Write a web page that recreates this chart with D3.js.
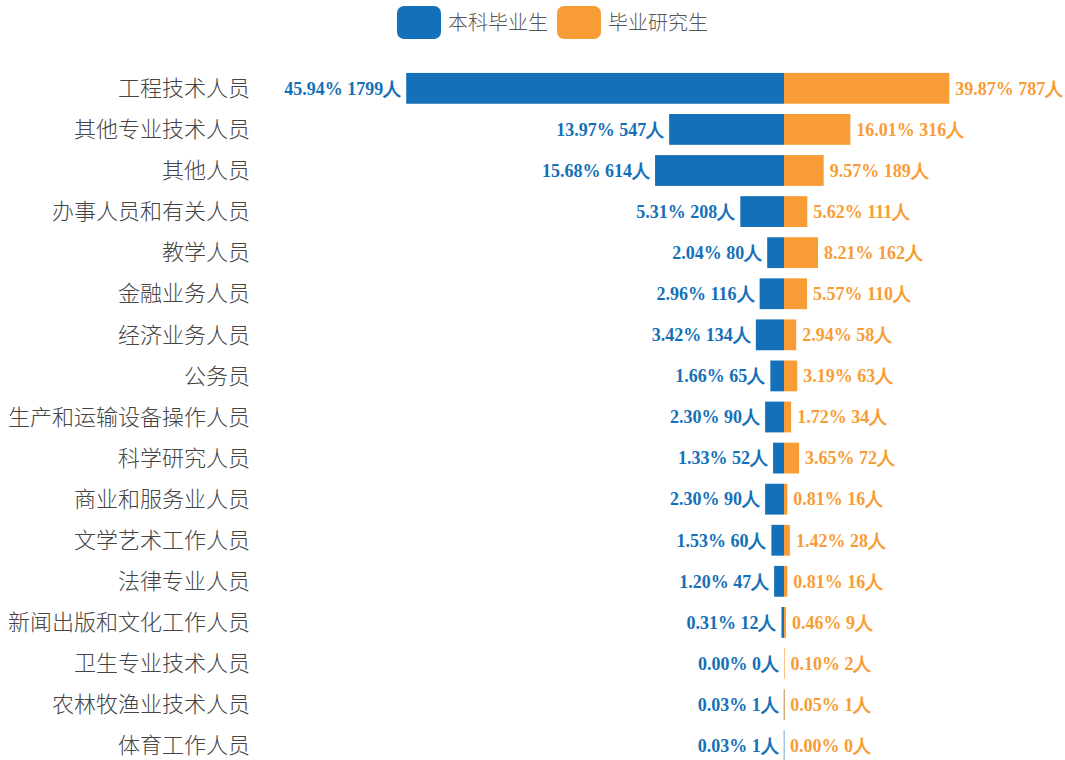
<!DOCTYPE html>
<html lang="zh">
<head>
  <meta charset="UTF-8">
  <title>毕业生职业分布</title>
  <style>
    body { margin: 0; background: #fff; }
  </style>
</head>
<body>
  <svg id="svg" width="1065" height="760"></svg>

  <script src="https://d3js.org/d3.v7.min.js"></script>
  <script>
    const categories = ['工程技术人员', '其他专业技术人员', '其他人员', '办事人员和有关人员', '教学人员',
      '金融业务人员', '经济业务人员', '公务员', '生产和运输设备操作人员', '科学研究人员',
      '商业和服务业人员', '文学艺术工作人员', '法律专业人员', '新闻出版和文化工作人员',
      '卫生专业技术人员', '农林牧渔业技术人员', '体育工作人员']
    const bachelorCount = [1799, 547, 614, 208, 80, 116, 134, 65, 90, 52, 90, 60, 47, 12, 0, 1, 1]
    const bachelorPct = ['45.94%', '13.97%', '15.68%', '5.31%', '2.04%', '2.96%', '3.42%', '1.66%', '2.30%',
      '1.33%', '2.30%', '1.53%', '1.20%', '0.31%', '0.00%', '0.03%', '0.03%']
    const masterCount = [787, 316, 189, 111, 162, 110, 58, 63, 34, 72, 16, 28, 16, 9, 2, 1, 0]
    const masterPct = ['39.87%', '16.01%', '9.57%', '5.62%', '8.21%', '5.57%', '2.94%', '3.19%', '1.72%',
      '3.65%', '0.81%', '1.42%', '0.81%', '0.46%', '0.10%', '0.05%', '0.00%']
    const seriesNames = ['本科毕业生', '毕业研究生']

    const blue = '#1470b8'
    const orange = '#f89c35'

    const svg = d3.select('#svg')

    // symmetric scale around the centre line, bars sized by head count
    const x = d3.scaleLinear()
      .domain([-1800, 1800])
      .range([406, 1162])

    const y = d3.scaleBand()
      .domain(categories)
      .range([68, 766])
      .paddingInner(0.25)
      .paddingOuter(0.12)

    const rows = categories.map((c, i) => ({
      cat: c, b: bachelorCount[i], bp: bachelorPct[i], m: masterCount[i], mp: masterPct[i]
    }))

    // category labels
    svg.selectAll('.cat')
      .data(rows)
      .enter()
      .append('text')
      .attr('x', 250)
      .attr('y', d => y(d.cat) + y.bandwidth() / 2)
      .attr('dy', '0.35em')
      .attr('text-anchor', 'end')
      .attr('font-family', '"Noto Sans CJK SC", sans-serif')
      .attr('font-weight', 300)
      .attr('font-size', 22)
      .attr('fill', '#444')
      .text(d => d.cat)

    // bachelor bars (left)
    svg.selectAll('.bar-b')
      .data(rows)
      .enter()
      .append('rect')
      .attr('x', d => x(-d.b))
      .attr('y', d => y(d.cat))
      .attr('width', d => Math.max(x(0) - x(-d.b), 0.6))
      .attr('height', y.bandwidth())
      .attr('fill', blue)
      .attr('opacity', d => d.b === 0 ? 0 : 1)

    // master bars (right)
    svg.selectAll('.bar-m')
      .data(rows)
      .enter()
      .append('rect')
      .attr('x', x(0))
      .attr('y', d => y(d.cat))
      .attr('width', d => Math.max(x(d.m) - x(0), 0.6))
      .attr('height', y.bandwidth())
      .attr('fill', orange)
      .attr('opacity', d => d.m === 0 ? 0 : 1)

    // value labels
    svg.selectAll('.lab-b')
      .data(rows)
      .enter()
      .append('text')
      .attr('x', d => x(-d.b) - 5)
      .attr('y', d => y(d.cat) + y.bandwidth() / 2)
      .attr('dy', '0.35em')
      .attr('text-anchor', 'end')
      .attr('font-family', '"Liberation Serif", "Times New Roman", serif')
      .attr('font-weight', 'bold')
      .attr('font-size', 18)
      .attr('fill', blue)
      .text(d => d.bp + ' ' + d.b + '人')

    svg.selectAll('.lab-m')
      .data(rows)
      .enter()
      .append('text')
      .attr('x', d => x(d.m) + 6)
      .attr('y', d => y(d.cat) + y.bandwidth() / 2)
      .attr('dy', '0.35em')
      .attr('font-family', '"Liberation Serif", "Times New Roman", serif')
      .attr('font-weight', 'bold')
      .attr('font-size', 18)
      .attr('fill', orange)
      .text(d => d.mp + ' ' + d.m + '人')

    // legend
    const legend = svg.selectAll('.legend')
      .data(seriesNames)
      .enter()
      .append('g')
      .attr('transform', (d, i) => `translate(${397 + i * 160}, 6)`)

    legend.append('rect')
      .attr('width', 44)
      .attr('height', 33)
      .attr('rx', 7)
      .attr('fill', (d, i) => i === 0 ? blue : orange)

    legend.append('text')
      .attr('x', 51)
      .attr('y', 17)
      .attr('dy', '0.35em')
      .attr('font-family', '"Noto Sans CJK SC", sans-serif')
      .attr('font-weight', 300)
      .attr('font-size', 20)
      .attr('fill', '#555')
      .text(d => d)
  </script>
</body>
</html>
